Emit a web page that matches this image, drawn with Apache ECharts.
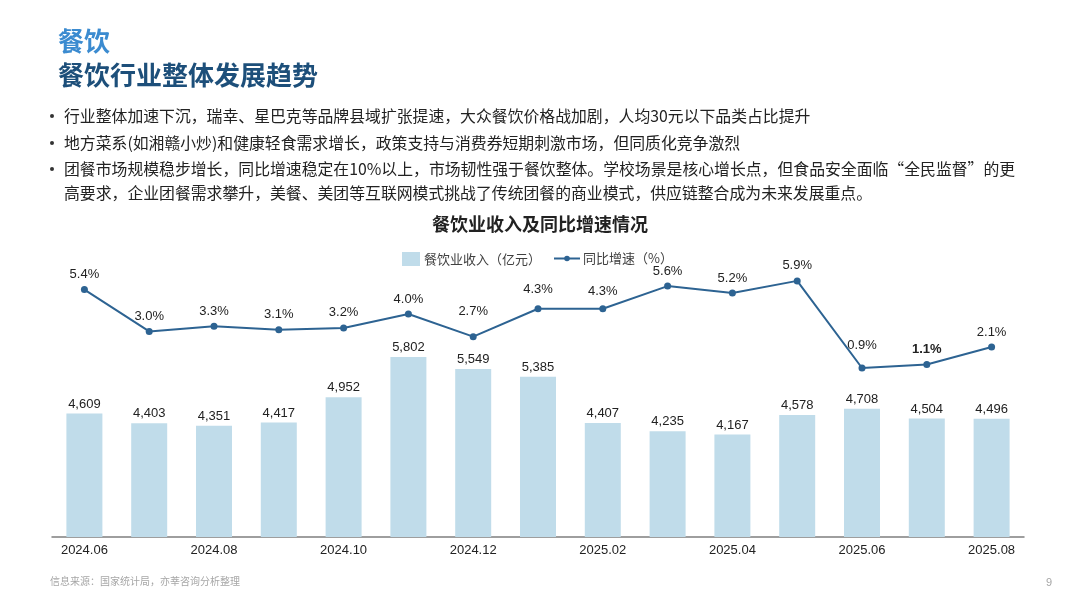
<!DOCTYPE html>
<html>
<head>
<meta charset="utf-8">
<script src="https://cdn.jsdelivr.net/npm/echarts@6/dist/echarts.min.js"></script>
<style>
html,body{margin:0;padding:0;background:#fff;}
#main{width:1080px;height:608px;}
</style>
</head>
<body>
<div id="main"></div>
<script>
var months = ['2024.06','2024.07','2024.08','2024.09','2024.10','2024.11','2024.12','2025.01','2025.02','2025.03','2025.04','2025.05','2025.06','2025.07','2025.08'];
var revenue = [4609, 4403, 4351, 4417, 4952, 5802, 5549, 5385, 4407, 4235, 4167, 4578, 4708, 4504, 4496];
var growth = [5.4, 3.0, 3.3, 3.1, 3.2, 4.0, 2.7, 4.3, 4.3, 5.6, 5.2, 5.9, 0.9, 1.1, 2.1];
var revenueName = '餐饮业收入（亿元）';
var growthName = '同比增速（%）';
var chartTitle = '餐饮业收入及同比增速情况';
var sectionTitle = '餐饮';
var pageTitle = '餐饮行业整体发展趋势';
var bullets = [
  '行业整体加速下沉，瑞幸、星巴克等品牌县域扩张提速，大众餐饮价格战加剧，人均30元以下品类占比提升',
  '地方菜系(如湘赣小炒)和健康轻食需求增长，政策支持与消费券短期刺激市场，但同质化竞争激烈',
  '团餐市场规模稳步增长，同比增速稳定在10%以上，市场韧性强于餐饮整体。学校场景是核心增长点，但食品安全面临“全民监督”的更',
  '高要求，企业团餐需求攀升，美餐、美团等互联网模式挑战了传统团餐的商业模式，供应链整合成为未来发展重点。'
];
var sourceNote = '信息来源：国家统计局，亦莘咨询分析整理';
var pageNo = '9';

var CJK = '"Noto Sans CJK SC", "Microsoft YaHei", sans-serif';
var NUM = '"Liberation Sans", Arial, "Noto Sans CJK SC", sans-serif';

var chart = echarts.init(document.getElementById('main'), null, {renderer: 'canvas'});

// label nudges for the line series (extra distance above the point)
var lineLabelExtra = {6: 10, 7: 4, 8: 2, 12: 8};

var growthData = growth.map(function (v, i) {
  var item = {value: v};
  var lab = {};
  if (lineLabelExtra[i]) lab.distance = 5 + lineLabelExtra[i];
  if (i === 13) lab.fontWeight = 'bold';
  item.label = lab;
  return item;
});

var bulletY = [116, 143, 169, 193];
var graphics = [
  {type: 'text', left: 58, top: 28, style: {text: sectionTitle, font: 'bold 26px ' + CJK, fill: '#3b8bd0'}},
  {type: 'text', left: 58, top: 62, style: {text: pageTitle, font: 'bold 26px ' + CJK, fill: '#1d4f7a'}},
  {type: 'text', left: 50, top: 576, style: {text: sourceNote, font: '10px ' + CJK, fill: '#a6a6a6'}},
  {type: 'text', left: 1046, top: 577, style: {text: pageNo, font: '11px ' + NUM, fill: '#a6a6a6'}}
];
bullets.forEach(function (b, i) {
  if (i !== 3) {
    graphics.push({type: 'circle', shape: {cx: 52, cy: bulletY[i], r: 2}, style: {fill: '#333'}});
  }
  graphics.push({type: 'text', x: 64, y: bulletY[i], style: {text: b, font: '15.85px ' + CJK, fill: '#222', textVerticalAlign: 'middle'}});
});

var option = {
  backgroundColor: '#fff',
  animation: false,
  title: {
    text: chartTitle,
    left: 'center',
    top: 210,
    textStyle: {fontFamily: CJK, fontSize: 18, fontWeight: 'bold', color: '#222'}
  },
  legend: [
    {
      data: [revenueName], left: 397, top: 247, itemWidth: 18, itemHeight: 14, icon: 'rect', itemGap: 4,
      textStyle: {fontFamily: CJK, fontSize: 13, color: '#404040', padding: [0, 0, 0, -1]}
    },
    {
      data: [growthName], left: 548, top: 247, itemWidth: 26, itemHeight: 7,
      textStyle: {fontFamily: CJK, fontSize: 13, color: '#404040', padding: [0, 0, 0, -2]}
    }
  ],
  grid: {left: 52, right: 56, top: 253, bottom: 71},
  xAxis: {
    type: 'category',
    data: months,
    boundaryGap: true,
    axisLine: {onZero: false, lineStyle: {color: '#7f7f7f', width: 1.5}},
    axisTick: {show: false},
    axisLabel: {interval: 1, fontFamily: NUM, fontSize: 13, color: '#222', margin: 7}
  },
  yAxis: [
    {type: 'value', min: 2000, max: 8000, show: false, splitLine: {show: false}},
    {type: 'value', min: -8.8, max: 7.5, show: false, splitLine: {show: false}}
  ],
  series: [
    {
      name: revenueName,
      type: 'bar',
      data: revenue,
      barWidth: 36,
      itemStyle: {color: '#c0dcea'},
      label: {
        show: true, position: 'top', distance: 3,
        fontFamily: NUM, fontSize: 13, color: '#222',
        formatter: function (p) { return p.value.toLocaleString('en-US'); }
      }
    },
    {
      name: growthName,
      type: 'line',
      yAxisIndex: 1,
      data: growthData,
      symbol: 'circle',
      symbolSize: 7,
      lineStyle: {color: '#2d6392', width: 2},
      itemStyle: {color: '#2d6392'},
      label: {
        show: true, position: 'top', distance: 5,
        fontFamily: NUM, fontSize: 13, color: '#222',
        formatter: function (p) { return p.value.toFixed(1) + '%'; }
      }
    }
  ],
  graphic: graphics
};
chart.setOption(option);
</script>
</body>
</html>
